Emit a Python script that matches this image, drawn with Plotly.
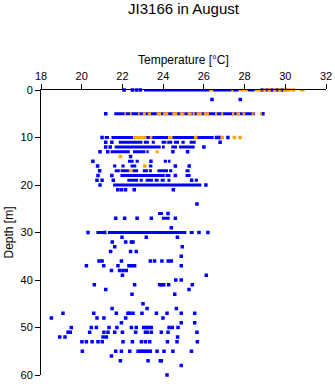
import plotly.graph_objects as go

# ---------------- data ----------------
# Individual observations: temperature (°C) and depth (m)
blue_pt_temp = [
    22.08, 22.49, 22.69, 22.88, 28.87, 29.12, 29.35, 29.6, 29.85,          # 0 m
    26.4, 27.79,                                                          # 2 m
    21.18, 28.9,                                                          # 5 m
    21.0, 26.62, 26.78, 27.18,                                            # 10 m
    21.18, 21.48, 26.8,                                                   # 11 m
    21.18, 21.4, 26.0,                                                    # 12 m
    20.9, 21.28, 24.48, 25.2,                                             # 13 m
    22.4,                                                                 # 14 m
    20.55, 23.4,                                                          # 15 m
    20.78, 24.6, 25.28,                                                   # 16 m
    20.88,                                                                # 17 m
    20.8, 21.48, 24.6,                                                    # 18 m
    20.75, 21.0, 21.55, 25.4,                                             # 19 m
    20.9, 26.1,                                                           # 20 m
    21.77, 21.95, 22.15, 22.58, 24.5,                                     # 21 m
    25.66,                                                                # 24 m
    24.24,                                                                # 26 m
    21.67, 22.11, 22.72, 23.42, 24.6,                                     # 27 m
    24.4,                                                                 # 29 m
    20.31, 21.13, 25.76, 26.2,                                            # 30 m
    21.98, 23.17, 24.7,                                                   # 31 m
    21.5, 22.16, 22.44, 22.52,                                            # 32 m
    21.62, 24.94,                                                         # 33 m
    21.42, 22.4, 22.68,                                                   # 34 m
    24.89,                                                                # 35 m
    20.85, 21.0, 21.95, 23.37, 23.58, 23.94, 24.25, 24.4,                 # 36 m
    20.23, 21.08, 21.78, 22.32, 22.45, 22.6, 24.89,                       # 37 m
    21.46, 21.86, 22.03, 22.19,                                           # 38 m
    22.0, 26.12,                                                          # 39 m
    24.62, 24.89,                                                         # 40 m
    20.62, 22.6, 23.83, 23.93, 24.03, 24.27, 25.43,                       # 41 m
    21.18, 25.27,                                                         # 42 m
    22.47, 24.57,                                                         # 43 m
    23.01,                                                                # 45 m
    21.49, 23.21, 24.65,                                                  # 46 m
    19.08, 20.59, 21.7, 22.27, 22.36, 22.52, 22.96, 23.67, 24.19, 24.89, 25.55,  # 47 m
    18.51, 20.75, 21.09, 22.16, 23.99,                                    # 48 m
    21.95, 24.89, 25.55,                                                  # 49 m
    19.49, 20.47, 20.72, 21.34, 21.73, 22.44, 22.68, 23.04, 23.16, 23.29,
    23.42, 24.29, 24.45, 24.73,                                           # 50 m
    19.33, 19.44, 20.39, 21.09, 21.29, 21.62, 22.0, 22.65, 23.13, 23.22,
    23.42, 23.91, 24.24, 25.66,                                           # 51 m
    18.92, 19.18, 21.05, 21.21, 24.71,                                    # 52 m
    20.01, 20.23, 20.51, 20.8, 21.01, 22.03, 22.49, 22.93, 23.13, 23.34,
    24.21, 24.68, 25.68,                                                  # 53 m
    20.03, 21.67, 21.95, 22.36, 22.77, 22.9, 23.0, 23.13, 23.25, 23.37,
    23.7, 24.04, 24.48, 25.39,                                            # 55 m
    21.46,                                                                # 56 m
    21.9, 23.26, 23.86, 23.91,                                            # 57 m
    24.89,                                                                # 58 m
    24.19,                                                                # 60 m
]
blue_pt_depth = (
    [0] * 9 + [2] * 2 + [5] * 2 + [10] * 4 + [11] * 3 + [12] * 3 + [13] * 4
    + [14] * 1 + [15] * 2 + [16] * 3 + [17] * 1 + [18] * 3 + [19] * 4 + [20] * 2
    + [21] * 5 + [24] * 1 + [26] * 1 + [27] * 5 + [29] * 1 + [30] * 4 + [31] * 3
    + [32] * 4 + [33] * 2 + [34] * 3 + [35] * 1 + [36] * 8 + [37] * 7 + [38] * 4
    + [39] * 2 + [40] * 2 + [41] * 7 + [42] * 2 + [43] * 2 + [45] * 1 + [46] * 3
    + [47] * 11 + [48] * 5 + [49] * 3 + [50] * 14 + [51] * 14 + [52] * 5
    + [53] * 13 + [55] * 14 + [56] * 1 + [57] * 4 + [58] * 1 + [60] * 1
)

orange_pt_temp = [28.98, 29.2, 29.48, 29.72, 29.98, 30.05, 30.2, 30.4,   # 0 m
                  25.6, 26.9, 27.5, 27.78,                                # 10 m
                  21.9,                                                   # 14 m
                  23.1]                                                   # 16 m
orange_pt_depth = [0] * 8 + [10] * 4 + [14] + [16]

# Dense runs of observations: start temp, end temp, depth
blue_run_t0 = [23.06, 26.45, 27.42, 28.15,
               21.6,
               21.13, 21.46, 23.15, 24.45,
               21.82, 23.05, 23.44, 23.92, 24.2, 24.53, 24.9, 25.3,
               21.62, 23.94, 24.4, 24.78,
               21.42, 22.52, 23.18,
               22.27, 22.65, 24.03, 24.24,
               21.54, 21.95, 22.4, 23.3,
               21.62, 21.91, 22.49, 23.0, 23.3, 23.72, 24.29, 25.1,
               21.9, 24.12, 25.1,
               22.24, 22.85, 23.14, 23.58, 23.88, 24.21, 25.55,
               21.54,
               23.75,
               23.94,
               20.72, 21.29, 25.3]
blue_run_t1 = [26.29, 27.37, 27.71, 28.5,
               28.5,
               21.34, 22.55, 24.25, 26.48,
               22.98, 23.3, 23.59, 24.16, 24.45, 24.78, 25.06, 25.6,
               23.88, 24.08, 24.68, 25.55,
               22.36, 23.13, 23.29,
               22.55, 22.8, 24.19, 24.36,
               21.7, 22.11, 22.68, 23.47,
               21.87, 22.32, 22.77, 23.25, 23.45, 24.24, 24.45, 25.3,
               24.08, 24.36, 25.35,
               22.77, 23.0, 23.5, 23.78, 24.08, 24.36, 25.71,
               25.88,
               23.99,
               24.32,
               21.05, 25.14, 25.5]
blue_run_depth = ([0] * 4 + [5] + [10] * 4 + [11] * 8 + [12] * 4 + [13] * 3
                  + [15] * 4 + [16] * 4 + [17] * 8 + [18] * 3 + [19] * 7
                  + [20] + [26] + [27] + [30] * 3)

orange_run_t0 = [26.25, 27.35, 27.72, 28.5, 30.7,
                 22.1, 22.37, 22.77, 23.0, 23.25, 23.68, 24.0, 24.45, 24.82,
                 25.2, 25.45, 25.65, 26.0, 26.55, 26.85, 27.38, 27.6, 27.9,
                 28.35, 28.75,
                 22.52, 23.34, 24.24,
                 23.63,
                 22.32]
orange_run_t1 = [26.45, 27.43, 28.17, 28.83, 30.95,
                 22.17, 22.45, 22.85, 23.15, 23.4, 23.9, 24.25, 24.7, 25.05,
                 25.4, 25.55, 25.9, 26.25, 26.65, 26.95, 27.5, 27.78, 28.03,
                 28.45, 28.85,
                 23.18, 23.47, 24.45,
                 23.78,
                 22.49]
orange_run_depth = [0] * 5 + [5] * 20 + [10] * 3 + [13] + [17]

# Axis ticks
temp_ticks = [18, 20, 22, 24, 26, 28, 30, 32]
depth_ticks = [0, 10, 20, 30, 40, 50, 60]

BLUE = "#0000FF"
ORANGE = "#FFA500"


def runs_xy(t0, t1, d):
    xs, ys = [], []
    for a, b, c in zip(t0, t1, d):
        xs += [a, b, None]
        ys += [c, c, None]
    return xs, ys


fig = go.Figure()

bx, by = runs_xy(blue_run_t0, blue_run_t1, blue_run_depth)
fig.add_trace(go.Scatter(x=bx, y=by, mode="lines", line=dict(color=BLUE, width=3),
                         hoverinfo="skip", showlegend=False, cliponaxis=False))
fig.add_trace(go.Scatter(x=blue_pt_temp, y=blue_pt_depth, mode="markers",
                         marker=dict(symbol="square", size=3.5, color=BLUE, line=dict(width=0)),
                         showlegend=False, cliponaxis=False))
ox, oy = runs_xy(orange_run_t0, orange_run_t1, orange_run_depth)
fig.add_trace(go.Scatter(x=ox, y=oy, mode="lines", line=dict(color=ORANGE, width=3),
                         hoverinfo="skip", showlegend=False, cliponaxis=False))
fig.add_trace(go.Scatter(x=orange_pt_temp, y=orange_pt_depth, mode="markers",
                         marker=dict(symbol="square", size=3.5, color=ORANGE, line=dict(width=0)),
                         showlegend=False, cliponaxis=False))

font_family = "Liberation Sans, Arial, sans-serif"
PLOT_H = 384 - 90 - 9
PLOT_W = 335 - 41 - 9

fig.update_layout(
    width=335, height=384,
    margin=dict(l=41, r=9, t=90, b=9, autoexpand=False),
    paper_bgcolor="white", plot_bgcolor="white",
    font=dict(family=font_family, size=11, color="black"),
    title=dict(text="JI3166 in August", x=(41 + PLOT_W / 2) / 335, xanchor="center",
               y=1 - 9 / 384, yanchor="middle", yref="container",
               font=dict(size=15, family=font_family, color="black")),
    xaxis=dict(range=[18, 32], side="top", tickvals=temp_ticks, automargin=False,
               showgrid=False, zeroline=False, showline=True, linecolor="black",
               linewidth=1, ticks="outside", ticklen=5, tickcolor="black",
               tickfont=dict(size=11)),
    yaxis=dict(range=[60, 0], tickvals=depth_ticks, automargin=False,
               showgrid=False, zeroline=False, showline=True, linecolor="black",
               linewidth=1, ticks="outside", ticklen=5, tickcolor="black",
               tickfont=dict(size=11)),
    annotations=[
        dict(text="Temperature [°C]", xref="paper", yref="paper", x=0.5,
             y=1 + 30 / PLOT_H, xanchor="center", yanchor="middle",
             showarrow=False, font=dict(size=12)),
        dict(text="Depth [m]", xref="paper", yref="paper", x=-33 / PLOT_W,
             y=0.5, xanchor="center", yanchor="middle", textangle=-90,
             showarrow=False, font=dict(size=12)),
    ],
)

fig.write_html("out.html")
